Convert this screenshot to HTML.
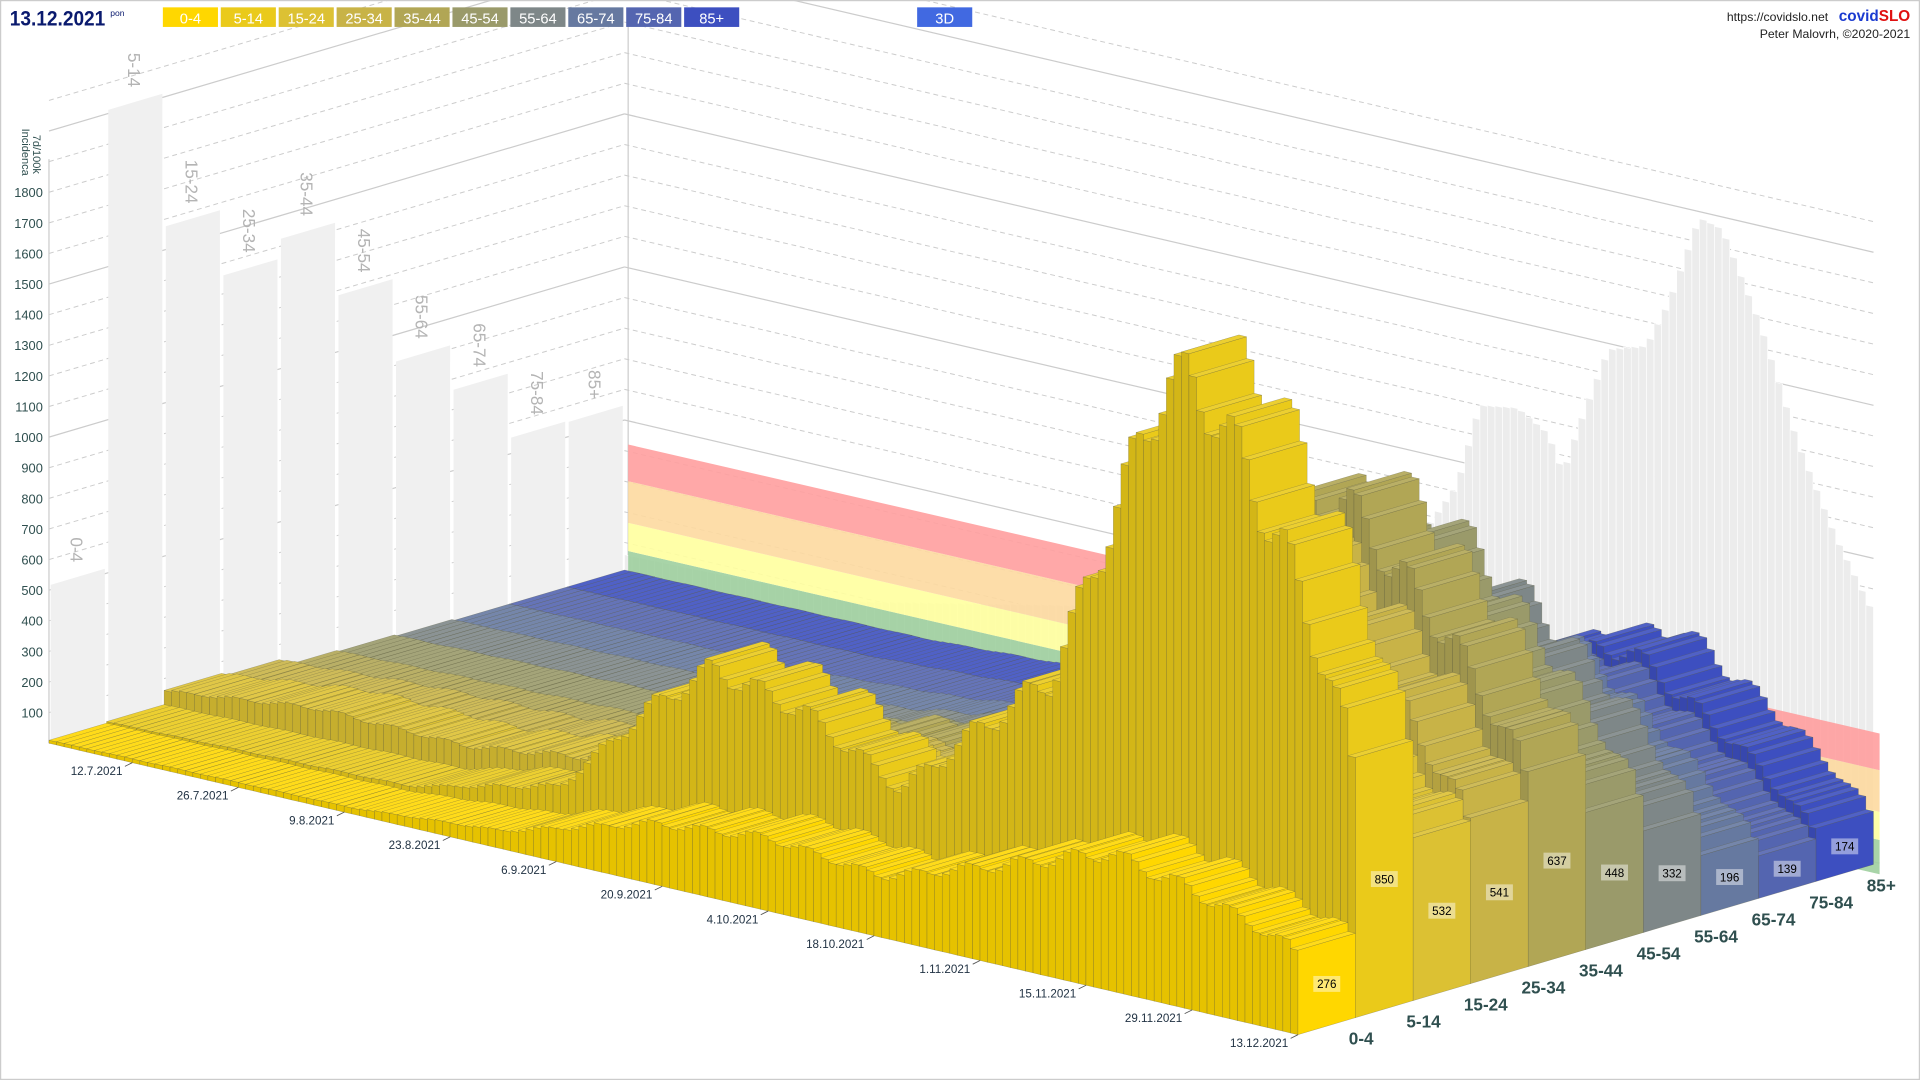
<!DOCTYPE html>
<html><head><meta charset="utf-8"><style>
html,body{margin:0;padding:0;background:#fff;overflow:hidden}
#w{width:1920px;height:1080px}
svg{display:block}
text{font-family:"Liberation Sans",sans-serif}
</style></head><body>
<div id="w"></div>
<script>
(function(){
var o=[];
function P(g,d,v){return [40+6.182*d+47*g,607+1.4424*d-13.9*g-v*0.25];}
function pts(a){var s=[];for(var i=0;i<a.length;i++){s.push(a[i][0].toFixed(1)+','+a[i][1].toFixed(1));}return s.join(' ');}
function interp(k,d){for(var i=0;i<k.length-1;i++){if(d>=k[i][0]&&d<=k[i+1][0]){var t=(d-k[i][0])/(k[i+1][0]-k[i][0]);return k[i][1]+t*(k[i+1][1]-k[i][1]);}}return k[k.length-1][1];}
function sh(c,f){var r=parseInt(c.substring(1,3),16),gg=parseInt(c.substring(3,5),16),b=parseInt(c.substring(5,7),16);function mm(x){x=Math.round(f>1?x+(255-x)*(f-1):x*f);return Math.max(0,Math.min(255,x));}return 'rgb('+mm(r)+','+mm(gg)+','+mm(b)+')';}
o.push('<svg width="1920" height="1080" viewBox="0 0 1568 882" preserveAspectRatio="none" xmlns="http://www.w3.org/2000/svg">');
o.push('<rect x="0.5" y="0.5" width="1567" height="881" fill="#fff" stroke="#ccc"/>');
var v,g,d,i,q,h,p;
for(v=100;v<=2100;v+=100){
 var a=P(0,0,v),b=P(10,0,v),c=P(10,165,v);
 var st=(v%500==0)?'stroke="#ccc" stroke-width="1"':'stroke="#ccc" stroke-width="0.8" stroke-dasharray="4,3"';
 o.push('<line x1="'+a[0]+'" y1="'+a[1]+'" x2="'+b[0]+'" y2="'+b[1]+'" '+st+'/>');
 o.push('<line x1="'+b[0]+'" y1="'+b[1]+'" x2="'+c[0]+'" y2="'+c[1]+'" '+st+'/>');
}
o.push('<line x1="40" y1="607" x2="40" y2="130" stroke="#ccc"/>');
o.push('<line x1="513" y1="470" x2="513" y2="18" stroke="#ccc"/>');
o.push('<line x1="40" y1="607" x2="513" y2="468" stroke="#ccc"/>');
o.push('<line x1="513" y1="468" x2="1535" y2="705" stroke="#ccc"/>');
for(v=100;v<=1800;v+=100){o.push('<text x="35" y="'+(607-v*0.25+4)+'" font-size="10.5" text-anchor="end" fill="#2f4f4f">'+v+'</text>');}
o.push('<text transform="translate(18,105) rotate(90)" font-size="9" fill="#2f4f4f">Incidenca</text>');
o.push('<text transform="translate(27,110) rotate(90)" font-size="9" fill="#2f4f4f">7d/100k</text>');
var wv=[516,2012,1576,1360,1424,1184,912,764,552,548];
var lab=['0-4','5-14','15-24','25-34','35-44','45-54','55-64','65-74','75-84','85+'];
for(g=0;g<10;g++){
 q=[P(g+0.03,0,0),P(g+0.97,0,0),P(g+0.97,0,wv[g]),P(g+0.03,0,wv[g])];
 o.push('<polygon points="'+pts(q)+'" fill="#f0f0f0"/>');
 var t=P(g+0.5,0,wv[g]);
 o.push('<text transform="translate('+(t[0]-6)+','+(t[1]-12)+') rotate(90)" font-size="14" fill="#b4b4b4" text-anchor="end">'+lab[g]+'</text>');
}
var hk=[[0,15],[30,20],[60,60],[80,110],[95,140],[105,180],[110,230],[113,300],[118,305],[122,290],[124,260],[126,300],[130,370],[135,380],[138,420],[142,495],[145,490],[150,420],[155,330],[160,260],[165,205]];
for(d=0;d<165;d++){h=interp(hk,d+0.5)*4;q=[P(10,d,0),P(10,d+1,0),P(10,d+1,h),P(10,d,h)];o.push('<polygon points="'+pts(q)+'" fill="#ececec" stroke="#fff" stroke-width="0.5"/>');}
var bands=[[478,450,'#9fcf9f'],[450,427,'#ffff9e'],[427,393,'#fdd9a0'],[393,363,'#ff9f9f']];
for(i=0;i<bands.length;i++){var bb=bands[i];o.push('<polygon points="513,'+bb[0]+' 1535,'+(bb[0]+236)+' 1535,'+(bb[1]+236)+' 513,'+bb[1]+'" fill="'+bb[2]+'" opacity="0.9"/>');}
var K=[
[[0,10],[40,20],[60,60],[80,200],[95,240],[110,200],[125,320],[140,450],[150,400],[165,276]],
[[0,15],[40,35],[60,150],[72,480],[80,650],[92,580],[105,400],[115,650],[125,880],[133,1450],[140,1950],[146,1900],[156,1450],[165,850]],
[[0,60],[20,120],[40,110],[60,180],[80,350],[100,350],[115,550],[130,850],[142,950],[155,740],[165,532]],
[[0,50],[20,80],[40,90],[60,150],[80,260],[100,320],[115,600],[130,1050],[140,1250],[155,880],[165,541]],
[[0,25],[40,50],[60,120],[80,260],[100,320],[115,650],[128,1150],[140,1400],[155,1000],[165,637]],
[[0,20],[40,40],[60,90],[80,200],[100,260],[115,550],[128,1000],[140,1200],[155,780],[165,448]],
[[0,15],[40,30],[60,70],[80,150],[100,220],[115,450],[128,800],[140,950],[155,640],[165,332]],
[[0,10],[40,20],[60,50],[80,110],[100,170],[115,350],[128,600],[140,720],[155,420],[165,196]],
[[0,10],[40,15],[60,40],[80,90],[100,140],[115,280],[128,480],[140,580],[155,330],[165,139]],
[[0,10],[40,15],[60,40],[80,100],[100,160],[115,300],[128,520],[140,620],[155,380],[165,174]]];
var col=['#ffd700','#eaca1a','#dcc133','#c8b347','#b1a655','#9a9a6a','#7e8788','#6679a0','#5465b0','#3d4fc0'];
var SK=' stroke="#5a5a40" stroke-opacity="0.45" stroke-width="0.4"/>';
for(g=9;g>=0;g--){
 var cc=col[g],cs=sh(cc,0.9),ct=sh(cc,1.1);
 var last=K[g][K[g].length-1][1];
 for(d=0;d<165;d++){
  h=interp(K[g],d+0.5)*(1+0.06*Math.sin(2*Math.PI*d/7));
  if(d==164)h=last;
  o.push('<polygon points="'+pts([P(g,d,0),P(g,d+1,0),P(g,d+1,h),P(g,d,h)])+'" fill="'+cs+'"'+SK);
  o.push('<polygon points="'+pts([P(g,d+1,0),P(g+1,d+1,0),P(g+1,d+1,h),P(g,d+1,h)])+'" fill="'+cc+'"'+SK);
  o.push('<polygon points="'+pts([P(g,d,h),P(g,d+1,h),P(g+1,d+1,h),P(g+1,d,h)])+'" fill="'+ct+'"'+SK);
 }
 var mp=P(g+0.5,165,last/2);
 o.push('<rect x="'+(mp[0]-11)+'" y="'+(mp[1]-6.5)+'" width="22" height="13" fill="#fff" opacity="0.45"/>');
 o.push('<text x="'+mp[0]+'" y="'+(mp[1]+3.5)+'" font-size="9.5" text-anchor="middle" fill="#000">'+last+'</text>');
 var l=P(g+0.5,165,0);
 o.push('<text x="'+(l[0]+18)+'" y="'+(l[1]+15)+'" font-size="14" fill="#2f4f4f" font-weight="bold">'+lab[g]+'</text>');
}
var dl=['12.7.2021','26.7.2021','9.8.2021','23.8.2021','6.9.2021','20.9.2021','4.10.2021','18.10.2021','1.11.2021','15.11.2021','29.11.2021','13.12.2021'];
for(i=0;i<12;i++){d=11+14*i;p=P(0,d,0);
 o.push('<line x1="'+p[0]+'" y1="'+p[1]+'" x2="'+(p[0]-6)+'" y2="'+(p[1]+3)+'" stroke="#555" stroke-width="0.7"/>');
 o.push('<text x="'+(p[0]-8)+'" y="'+(p[1]+10)+'" font-size="9.5" text-anchor="end" fill="#234">'+dl[i]+'</text>');}
o.push('<text x="8" y="21" font-size="17" font-weight="bold" fill="#0a1a6e" textLength="78" lengthAdjust="spacingAndGlyphs">13.12.2021</text>');
o.push('<text x="90" y="13" font-size="7" fill="#0a1a6e">pon</text>');
for(g=0;g<10;g++){var x=133+g*47.3;o.push('<rect x="'+x+'" y="6" width="45" height="16" fill="'+col[g]+'"/><text x="'+(x+22.5)+'" y="19" font-size="12" text-anchor="middle" fill="#fff">'+lab[g]+'</text>');}
o.push('<rect x="749" y="6" width="45" height="16" fill="#4169e1"/><text x="771.5" y="19" font-size="12" text-anchor="middle" fill="#fff">3D</text>');
o.push('<text x="1493" y="17" font-size="10" text-anchor="end" fill="#222">https://covidslo.net</text>');
o.push('<text x="1560" y="17" font-size="12.5" font-weight="bold" text-anchor="end"><tspan fill="#1a3ad0">covid</tspan><tspan fill="#e01010">SLO</tspan></text>');
o.push('<text x="1560" y="31" font-size="10" text-anchor="end" fill="#222">Peter Malovrh, &#169;2020-2021</text>');
o.push('</svg>');
document.getElementById('w').innerHTML=o.join('');
})();
</script>
</body></html>
